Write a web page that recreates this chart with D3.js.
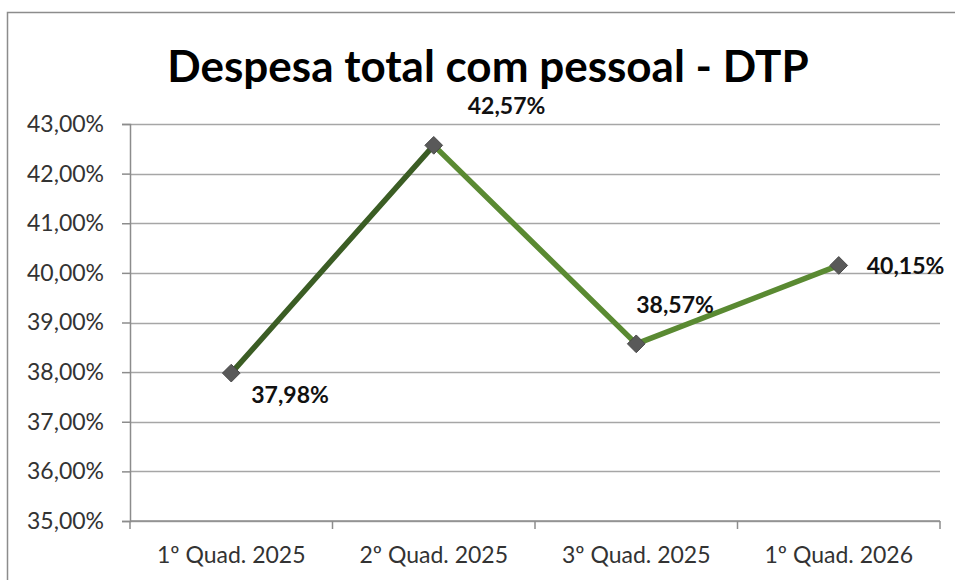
<!DOCTYPE html>
<html>
<head>
<meta charset="utf-8">
<script src="https://cdn.jsdelivr.net/npm/d3@7"></script>
<style>
  body { margin: 0; background: #fff; }
  svg { display: block; }
  text { font-family: Lato, "Open Sans", sans-serif; }
</style>
</head>
<body>
<div id="box"></div>
<script>
'use strict';

var categories = ["1º Quad. 2025", "2º Quad. 2025", "3º Quad. 2025", "1º Quad. 2026"];
var values = [37.98, 42.57, 38.57, 40.15];
var yTicks = [35, 36, 37, 38, 39, 40, 41, 42, 43];
var titleText = "Despesa total com pessoal - DTP";

// label placement relative to each point (dx, dy)
var labelOffsets = [[20, 30], [34, -31], [0, -31], [28, 9]];

var width = 955, height = 580;
var margin = {top: 124, right: 15, bottom: 59, left: 130};
var innerW = 940 - margin.left, innerH = 521 - margin.top;

var fmt = function(v) { return v.toFixed(2).replace(".", ",") + "%"; };

var svg = d3.select("#box")
  .append("svg")
    .attr("width", width)
    .attr("height", height);

// chart frame
svg.append("rect")
  .attr("x", 7.5).attr("y", 12.5)
  .attr("width", 960).attr("height", 600)
  .attr("fill", "none")
  .attr("stroke", "#8c8c8c")
  .attr("stroke-width", 1.5);

var title = svg.append("text")
  .attr("x", 488)
  .attr("y", 82)
  .attr("text-anchor", "middle")
  .style("font-size", "44px")
  .style("font-weight", "bold")
  .style("fill", "#000")
  .text(titleText);

var g = svg.append("g")
  .attr("transform", "translate(" + margin.left + "," + margin.top + ")");

var x = d3.scaleBand()
  .domain(categories)
  .range([0, innerW]);

var y = d3.scaleLinear()
  .domain([35, 43])
  .range([innerH, 0]);

// gridlines
g.append("g")
  .selectAll("line")
  .data(yTicks)
  .join("line")
    .attr("x1", 0).attr("x2", innerW)
    .attr("y1", function(d) { return Math.round(y(d)) + 0.5; })
    .attr("y2", function(d) { return Math.round(y(d)) + 0.5; })
    .attr("stroke", "#a6a6a6")
    .attr("stroke-width", 1.5);

// Y axis
var yAxis = g.append("g")
  .call(d3.axisLeft(y).tickValues(yTicks).tickFormat(fmt).tickSize(8).tickPadding(18));
yAxis.select(".domain").attr("stroke", "#8c8c8c").attr("stroke-width", 1.5);
yAxis.selectAll(".tick line").attr("stroke", "#8c8c8c").attr("stroke-width", 1.5);
yAxis.selectAll(".tick text")
  .style("font-size", "23px")
  .style("fill", "#333")
  .style("font-family", "Lato, sans-serif");

// X axis: ticks between categories
var xAxis = g.append("g")
  .attr("transform", "translate(0," + innerH + ")");
xAxis.append("line")
  .attr("x1", 0).attr("x2", innerW)
  .attr("stroke", "#8c8c8c").attr("stroke-width", 1.5);
xAxis.selectAll(".sep")
  .data(d3.range(categories.length + 1))
  .join("line")
    .attr("class", "sep")
    .attr("x1", function(i) { return i * x.bandwidth(); })
    .attr("x2", function(i) { return i * x.bandwidth(); })
    .attr("y1", 0).attr("y2", 8)
    .attr("stroke", "#8c8c8c").attr("stroke-width", 1.5);
xAxis.selectAll(".cat")
  .data(categories)
  .join("text")
    .attr("class", "cat")
    .attr("x", function(d) { return x(d) + x.bandwidth() / 2; })
    .attr("y", 42)
    .attr("text-anchor", "middle")
    .style("font-size", "23px")
    .style("fill", "#333")
    .text(function(d) { return d; });

var cx = function(i) { return x(categories[i]) + x.bandwidth() / 2; };

// line segments: first one darker
var segColors = ["#3b5d24", "#5a8a32", "#5a8a32"];
var segs = d3.range(values.length - 1);
g.selectAll(".seg")
  .data(segs)
  .join("path")
    .attr("class", "seg")
    .attr("fill", "none")
    .attr("stroke", function(i) { return segColors[i]; })
    .attr("stroke-width", 5.5)
    .attr("stroke-linecap", "round")
    .attr("d", function(i) {
      return d3.line()([[cx(i), y(values[i])], [cx(i + 1), y(values[i + 1])]]);
    });

// markers
g.selectAll(".pt")
  .data(values)
  .join("path")
    .attr("class", "pt")
    .attr("d", d3.symbol().type(d3.symbolDiamond2).size(200))
    .attr("transform", function(d, i) { return "translate(" + cx(i) + "," + y(d) + ")"; })
    .attr("fill", "#595959")
    .attr("stroke", "#4a4a4a")
    .attr("stroke-width", 1);

// data labels
g.selectAll(".lbl")
  .data(values)
  .join("text")
    .attr("class", "lbl")
    .attr("x", function(d, i) { return cx(i) + labelOffsets[i][0]; })
    .attr("y", function(d, i) { return y(d) + labelOffsets[i][1]; })
    .style("font-size", "23px")
    .style("font-weight", "bold")
    .style("fill", "#111")
    .text(fmt);
</script>
</body>
</html>
